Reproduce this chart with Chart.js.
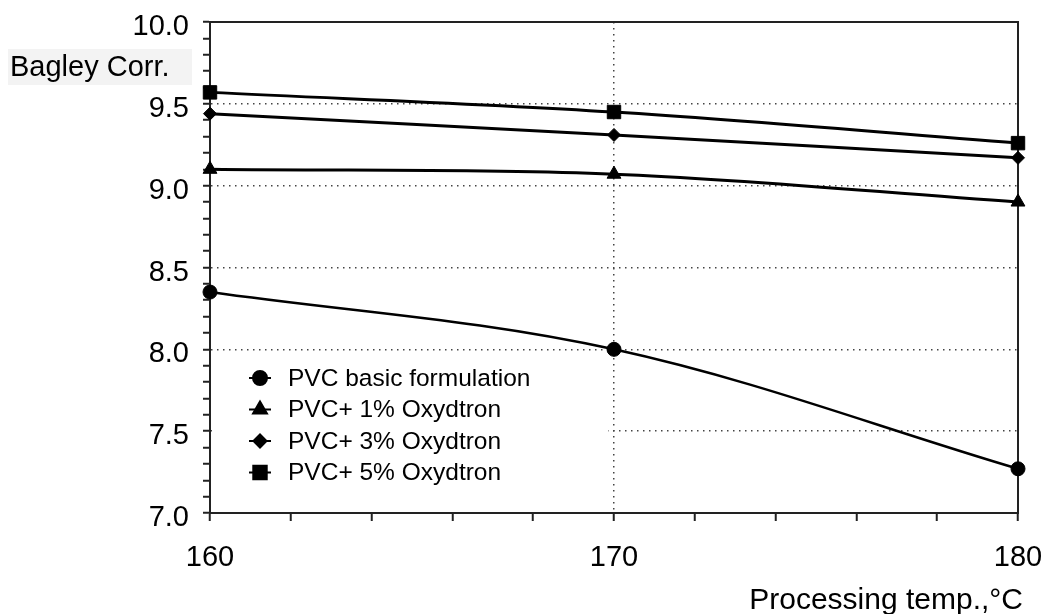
<!DOCTYPE html>
<html>
<head>
<meta charset="utf-8">
<script src="https://cdn.jsdelivr.net/npm/chart.js@4.4.1/dist/chart.umd.min.js"></script>
<style>
  html, body { margin: 0; padding: 0; background: #fff; }
  #wrap { width: 1051px; height: 614px; }
</style>
</head>
<body>
<div id="wrap"><canvas id="myChart" width="1051" height="614"></canvas></div>
<script>
// donnees
let temperatures = [160, 170, 180];
let pvcBasic = [8.35, 8.0, 7.27];
let pvc1 = [9.10, 9.07, 8.90];
let pvc3 = [9.44, 9.31, 9.17];
let pvc5 = [9.57, 9.45, 9.26];
let seriesLabels = ["PVC basic formulation", "PVC+ 1% Oxydtron", "PVC+ 3% Oxydtron", "PVC+ 5% Oxydtron"];
let yTitle = "Bagley Corr.";
let xTitle = "Processing temp.,°C";
let xMajor = [160, 170, 180];
let yMajor = [7.0, 7.5, 8.0, 8.5, 9.0, 9.5, 10.0];

const FONT = "'Liberation Sans', Arial, sans-serif";

function toPoints(vals) {
  return temperatures.map((t, i) => ({ x: t, y: vals[i] }));
}

function serie(label, vals, style, radius, width) {
  return {
    label: label,
    data: toPoints(vals),
    borderColor: "#000",
    backgroundColor: "#000",
    borderWidth: width,
    tension: 0.35,
    clip: false,
    pointStyle: style,
    pointRadius: radius,
    pointBorderWidth: 1,
    pointBackgroundColor: "#000",
    pointBorderColor: "#000",
  };
}

const data = {
  datasets: [
    serie(seriesLabels[0], pvcBasic, "circle", 7, 2.5),
    serie(seriesLabels[1], pvc1, "triangle", 8, 3),
    serie(seriesLabels[2], pvc3, "rectRot", 6.5, 3),
    serie(seriesLabels[3], pvc5, "rect", 9.5, 3),
  ],
};

function isMajorY(v) {
  return Math.abs(v * 2 - Math.round(v * 2)) < 1e-6;
}

// dessin du cadre, des titres et de la legende
const decor = {
  id: "decor",
  beforeDatasetsDraw(chart) {
    const ctx = chart.ctx;
    const a = chart.chartArea;
    ctx.save();
    // cadre
    ctx.strokeStyle = "#222";
    ctx.lineWidth = 2;
    ctx.strokeRect(a.left, a.top, a.right - a.left, a.bottom - a.top);
    ctx.restore();
  },
  afterDraw(chart) {
    const ctx = chart.ctx;
    const a = chart.chartArea;
    ctx.save();

    // titre Y
    ctx.fillStyle = "#f3f3f3";
    ctx.fillRect(8, 49, 184, 36);
    ctx.fillStyle = "#000";
    ctx.font = "29px " + FONT;
    ctx.textAlign = "left";
    ctx.textBaseline = "alphabetic";
    ctx.fillText(yTitle, 10, 76);

    // titre X
    ctx.font = "30px " + FONT;
    ctx.textAlign = "right";
    ctx.fillText(xTitle, 1023, 609);

    // legende
    ctx.fillStyle = "#fff";
    ctx.fillRect(a.left + 2, 364, 396, 146);
    const rows = [378, 409.5, 441, 472.5];
    chart.data.datasets.forEach((ds, i) => {
      const y = rows[i];
      ctx.strokeStyle = "#000";
      ctx.fillStyle = "#000";
      ctx.lineWidth = 2;
      ctx.beginPath();
      ctx.moveTo(249, y);
      ctx.lineTo(271, y);
      ctx.stroke();
      Chart.helpers.drawPoint(ctx, {
        pointStyle: ds.pointStyle,
        radius: ds.pointRadius,
        borderWidth: 1,
        rotation: 0,
      }, 260, y);
      ctx.fillStyle = "#000";
      ctx.font = "24.5px " + FONT;
      ctx.textAlign = "left";
      ctx.textBaseline = "middle";
      ctx.fillText(ds.label, 288, y + 1);
    });
    ctx.restore();
  },
};

const config = {
  type: "line",
  data: data,
  options: {
    responsive: false,
    animation: false,
    layout: { padding: { top: 22, right: 33, left: 0, bottom: 0 } },
    plugins: {
      legend: { display: false },
      tooltip: { enabled: false },
    },
    scales: {
      x: {
        type: "linear",
        min: 160,
        max: 180,
        border: { display: true, color: "#222", width: 2, dash: [1.5, 4.5] },
        ticks: {
          stepSize: 2,
          autoSkip: false,
          maxRotation: 0,
          padding: 20,
          color: "#000",
          font: { family: FONT, size: 29 },
          callback: (v) => (xMajor.includes(v) ? String(v) : ""),
        },
        grid: {
          color: (c) => (c.tick && c.tick.value === 170 ? "#444" : "rgba(0,0,0,0)"),
          lineWidth: 1.5,
          drawTicks: true,
          tickLength: 8,
          tickColor: "#222",
          tickWidth: 2,
          tickBorderDash: [],
        },
        afterFit: (scale) => {
          scale.height = 101;
          scale.paddingLeft = 0;
          scale.paddingRight = 0;
        },
      },
      y: {
        min: 7,
        max: 10,
        border: { display: true, color: "#222", width: 2, dash: [1.5, 4.5] },
        ticks: {
          stepSize: 0.1,
          autoSkip: false,
          padding: 14,
          labelOffset: 5,
          color: "#000",
          font: { family: FONT, size: 29 },
          callback: (v) => (isMajorY(v) ? Number(v).toFixed(1) : ""),
        },
        grid: {
          color: (c) => {
            let v = c.tick ? c.tick.value : 0;
            return isMajorY(v) && v > 7.01 && v < 9.99 ? "#444" : "rgba(0,0,0,0)";
          },
          lineWidth: 1.5,
          drawTicks: true,
          tickLength: 7,
          tickColor: "#222",
          tickWidth: 2,
          tickBorderDash: [],
        },
        afterFit: (scale) => {
          scale.width = 210;
          scale.paddingTop = 0;
          scale.paddingBottom = 0;
        },
      },
    },
  },
  plugins: [decor],
};

let context = document.getElementById("myChart").getContext("2d");
let chart = new Chart(context, config);
</script>
</body>
</html>
